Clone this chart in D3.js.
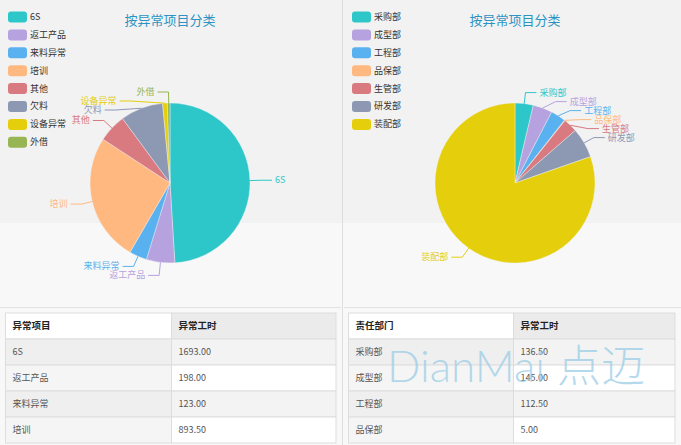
<!DOCTYPE html>
<html><head><meta charset="utf-8">
<script src="https://cdn.jsdelivr.net/npm/d3@7"></script>
<style>body{margin:0;background:#f8f8f8;overflow:hidden} svg{display:block}</style>
</head><body><svg id="c" width="681" height="445"></svg>
<script>
const chartTitle = "按异常项目分类";
const itemCategories = ["6S","返工产品","来料异常","培训","其他","欠料","设备异常","外借"];
const itemHours = [1693, 198, 123, 893.5, 196, 298, 33, 18];
const deptCategories = ["采购部","成型部","工程部","品保部","生管部","研发部","装配部"];
const deptHours = [136.5, 145, 112.5, 5, 105, 225, 2980];
const palette = ['#2ec7c9','#b6a2de','#5ab1ef','#ffb980','#d87a80','#8d98b3','#e5cf0d','#97b552'];
const itemTableHeader = ["异常项目","异常工时"];
const deptTableHeader = ["责任部门","异常工时"];
const visibleTableRows = 4;
const watermark = "DianMai 点迈";

const FONT = "'Noto Sans CJK SC','Noto Sans',sans-serif";
const svg = d3.select("#c");

// backgrounds
svg.append("rect").attr("x",0).attr("y",0).attr("width",681).attr("height",445).attr("fill","#f8f8f8");
svg.append("rect").attr("x",0).attr("y",0).attr("width",681).attr("height",223).attr("fill","#f2f2f2");
svg.append("line").attr("x1",342.5).attr("x2",342.5).attr("y1",0).attr("y2",445).attr("stroke","#dedede");
svg.append("line").attr("x1",0).attr("x2",341).attr("y1",307.5).attr("y2",307.5).attr("stroke","#e2e2e2");
svg.append("line").attr("x1",344).attr("x2",681).attr("y1",307.5).attr("y2",307.5).attr("stroke","#e2e2e2");

function drawPie(cx, cy, r, legendX, cats, vals) {
  const data = cats.map((c,i)=>({name:c, v:vals[i], color:palette[i % palette.length]}));
  const g = svg.append("g");
  // title
  g.append("text").attr("x",cx).attr("y",21).attr("text-anchor","middle")
    .attr("dominant-baseline","middle").attr("font-family",FONT).attr("font-size",13)
    .attr("fill","#2b93c3").text(chartTitle);
  // legend
  const ly = d3.scalePoint().domain(cats).range([17, 17 + 17.9*(cats.length-1)]);
  const lg = g.append("g").selectAll("g").data(data).join("g")
    .attr("transform", d=>`translate(${legendX},${ly(d.name)})`);
  lg.append("rect").attr("x",0).attr("y",-5.5).attr("width",19).attr("height",11).attr("rx",3).attr("fill",d=>d.color);
  lg.append("text").attr("x",22).attr("y",0.5).attr("dominant-baseline","middle").attr("font-family",FONT)
    .attr("font-size",9).attr("fill","#333").text(d=>d.name);
  // pie
  const pie = d3.pie().sort(null).value(d=>d.v);
  const arcs = pie(data);
  const arc = d3.arc().innerRadius(0).outerRadius(r);
  const pg = g.append("g").attr("transform",`translate(${cx},${cy})`);
  pg.selectAll("path").data(arcs).join("path").attr("d",arc).attr("fill",d=>d.data.color)
    .attr("stroke","#f2f2f2").attr("stroke-width",0.4);
  // labels
  const len1 = 11, len2 = 11, gap = 9, rA = r + len1;
  const labels = arcs.map(a=>{
    const m = (a.startAngle + a.endAngle)/2;
    const dx = Math.sin(m), dy = -Math.cos(m);
    return {a, side: dx >= 0 ? 1 : -1, p0:[r*dx, r*dy], x1: rA*dx, y1: rA*dy};
  });
  [1,-1].forEach(s=>{
    const L = labels.filter(l=>l.side===s).sort((p,q)=>p.y1-q.y1);
    for (let i=1;i<L.length;i++){
      if (L[i].y1 < L[i-1].y1 + gap) {
        L[i].y1 = L[i-1].y1 + gap;
        if (Math.abs(L[i].y1) < rA) L[i].x1 = s*Math.sqrt(rA*rA - L[i].y1*L[i].y1);
      }
    }
  });
  labels.forEach(l=>{
    const x2 = l.x1 + l.side*len2;
    pg.append("polyline").attr("points",[l.p0,[l.x1,l.y1],[x2,l.y1]].map(p=>p.join(",")).join(" "))
      .attr("fill","none").attr("stroke",l.a.data.color).attr("stroke-width",1);
    pg.append("text").attr("x",x2 + l.side*3).attr("y",l.y1+0.5)
      .attr("text-anchor", l.side>0 ? "start" : "end").attr("dominant-baseline","middle")
      .attr("font-family",FONT).attr("font-size",9).attr("fill",l.a.data.color).text(l.a.data.name);
  });
}

drawPie(170, 183, 80, 8, itemCategories, itemHours);
drawPie(515, 183, 80, 352, deptCategories, deptHours);

function drawTable(x0, xMid, x1, header, cats, vals) {
  const rows = [header].concat(cats.slice(0, visibleTableRows).map((c,i)=>[c, vals[i].toFixed(2)]));
  const y = d3.scaleBand().domain(d3.range(rows.length)).range([313, 313 + 26*rows.length]);
  const cols = [[x0, xMid],[xMid, x1]];
  const g = svg.append("g");
  rows.forEach((row,ri)=>{
    row.forEach((cell,ci)=>{
      let fill;
      if (ri===0) fill = ci===0 ? "#ffffff" : "#ebebeb";
      else if (ri % 2 === 1) fill = ci===0 ? "#efefef" : "#f3f3f3";
      else fill = ci===0 ? "#f5f5f5" : "#ffffff";
      g.append("rect").attr("x",cols[ci][0]).attr("y",y(ri)).attr("width",cols[ci][1]-cols[ci][0])
        .attr("height",y.bandwidth()).attr("fill",fill).attr("stroke","#dddddd").attr("stroke-width",1);
      g.append("text").attr("x",cols[ci][0]+7).attr("y",y(ri)+y.bandwidth()/2+0.5)
        .attr("dominant-baseline","middle").attr("font-family",FONT)
        .attr("font-size", ri===0 ? 9.5 : 9).attr("font-weight", ri===0 ? "bold" : "normal")
        .attr("fill", ri===0 ? "#222" : "#555").text(cell);
    });
  });
}
drawTable(5.5, 171.5, 336, itemTableHeader, itemCategories, itemHours);
drawTable(348.5, 513.5, 675, deptTableHeader, deptCategories, deptHours);

svg.append("text").attr("x",387).attr("y",382).attr("font-family","Lato,'Noto Sans CJK SC',sans-serif")
  .attr("font-weight",300).attr("font-size",44).attr("fill","#9ccde6").attr("fill-opacity",0.75).text(watermark);
</script></body></html>
